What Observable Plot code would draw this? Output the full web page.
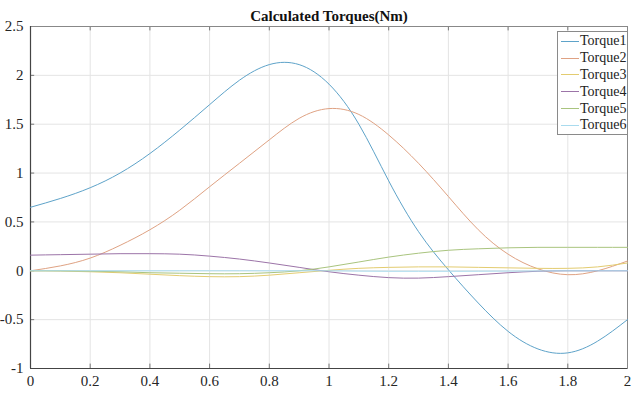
<!DOCTYPE html>
<html>
<head>
<meta charset="utf-8">
<script src="https://cdn.jsdelivr.net/npm/d3@7"></script>
<script src="https://cdn.jsdelivr.net/npm/@observablehq/plot@0.6"></script>
<style>
  html, body { margin: 0; padding: 0; background: #fff; }
  #wrap { position: relative; width: 632px; height: 394px; font-family: "Liberation Serif", serif; }
  #wrap svg text { font-family: "Liberation Serif", serif; }
  #legend { position: absolute; left: 557px; top: 31px; width: 69px; background: #fff; border: 1px solid #8a8a8a; padding: 1px 0 0 0; }
  .item { display: flex; align-items: center; height: 16.8px; font-size: 14px; color: #222; }
  .sw { width: 18px; height: 0; border-top: 1px solid; margin: 0 1px 0 3px; }
</style>
</head>
<body>
<div id="wrap"></div>
<script>
const title = "Calculated Torques(Nm)";
const seriesNames = ["Torque1", "Torque2", "Torque3", "Torque4", "Torque5", "Torque6"];
const colors = ["#5ea3c9", "#dfa283", "#e3cc70", "#9c74a8", "#a9c47e", "#a9dbee"];
const xs = [0, 0.1, 0.2, 0.3, 0.4, 0.5, 0.6, 0.7, 0.8, 0.9, 1.0, 1.1, 1.2, 1.3, 1.4, 1.5, 1.6, 1.7, 1.8, 1.9, 2.0];
const torque1 = [0.65, 0.74, 0.85, 1.0, 1.2, 1.44, 1.7, 1.95, 2.11, 2.11, 1.91, 1.50, 0.92, 0.4, 0.01, -0.33, -0.62, -0.8, -0.84, -0.72, -0.5];
const torque2 = [0, 0.05, 0.13, 0.26, 0.42, 0.62, 0.86, 1.1, 1.34, 1.56, 1.66, 1.6, 1.39, 1.1, 0.76, 0.42, 0.17, 0.02, -0.04, 0.0, 0.1];
const torque3 = [0, -0.003, -0.01, -0.02, -0.035, -0.05, -0.06, -0.06, -0.045, -0.02, 0.005, 0.025, 0.035, 0.04, 0.04, 0.035, 0.03, 0.025, 0.025, 0.04, 0.08];
const torque4 = [0.16, 0.165, 0.17, 0.175, 0.175, 0.17, 0.15, 0.12, 0.08, 0.035, -0.01, -0.045, -0.07, -0.075, -0.06, -0.04, -0.02, -0.005, 0.0, 0.0, 0.0];
const torque5 = [0, 0, -0.005, -0.01, -0.02, -0.025, -0.03, -0.03, -0.02, 0.0, 0.04, 0.09, 0.14, 0.18, 0.21, 0.225, 0.235, 0.24, 0.24, 0.24, 0.24];
const torque6 = [0, 0, 0, 0, 0, 0, 0, 0, 0, 0, 0, -0.003, -0.005, -0.005, -0.005, -0.004, -0.003, -0.002, 0, 0, 0];
const xTicks = [0, 0.2, 0.4, 0.6, 0.8, 1, 1.2, 1.4, 1.6, 1.8, 2];
const yTicks = [-1, -0.5, 0, 0.5, 1, 1.5, 2, 2.5];

const allSeries = [torque1, torque2, torque3, torque4, torque5, torque6];
const rows = [];
allSeries.forEach((s, i) => s.forEach((v, j) => rows.push({x: xs[j], y: v, series: seriesNames[i]})));

const serif = "Liberation Serif, serif";
const chart = Plot.plot({
  width: 632,
  height: 394,
  marginLeft: 30,
  marginRight: 5,
  marginTop: 26,
  marginBottom: 26,
  style: {fontFamily: serif, fontSize: "15px", color: "#262626", background: "#fff"},
  x: {domain: [0, 2], label: null},
  y: {domain: [-1, 2.5], label: null},
  color: {domain: seriesNames, range: colors},
  marks: [
    Plot.gridX(xTicks, {stroke: "#e4e4e4", strokeOpacity: 1}),
    Plot.gridY(yTicks, {stroke: "#e4e4e4", strokeOpacity: 1}),
    Plot.axisX(xTicks, {tickSize: 0, tickPadding: 7, fontSize: 15, fontFamily: serif, label: null, tickFormat: d => String(d)}),
    Plot.axisY(yTicks, {tickSize: 0, tickPadding: 7, fontSize: 15, fontFamily: serif, label: null, tickFormat: d => String(d)}),
    Plot.ruleX(xTicks, {x: d => d, y1: -1, y2: -0.955, stroke: "#777"}),
    Plot.ruleX(xTicks, {x: d => d, y1: 2.5, y2: 2.455, stroke: "#777"}),
    Plot.ruleY(yTicks, {y: d => d, x1: 0, x2: 0.014, stroke: "#777"}),
    Plot.frame({stroke: "#888", strokeWidth: 1}),
    Plot.ruleX([0], {stroke: "#444", strokeWidth: 1.2}),
    Plot.ruleY([-1], {stroke: "#444", strokeWidth: 1.2}),
    Plot.line(rows, {x: "x", y: "y", z: "series", stroke: "series", strokeWidth: 1, curve: "natural"}),
    Plot.text([title], {frameAnchor: "top", dy: -16, fontWeight: "bold", fontSize: 15, fontFamily: serif, fill: "#111"})
  ]
});

const wrap = document.getElementById("wrap");
wrap.appendChild(chart);
const legend = document.createElement("div");
legend.id = "legend";
seriesNames.forEach((n, i) => {
  const it = document.createElement("div");
  it.className = "item";
  const sw = document.createElement("span");
  sw.className = "sw";
  sw.style.borderTopColor = colors[i];
  const t = document.createElement("span");
  t.textContent = n;
  it.appendChild(sw);
  it.appendChild(t);
  legend.appendChild(it);
});
wrap.appendChild(legend);
</script>
</body>
</html>
